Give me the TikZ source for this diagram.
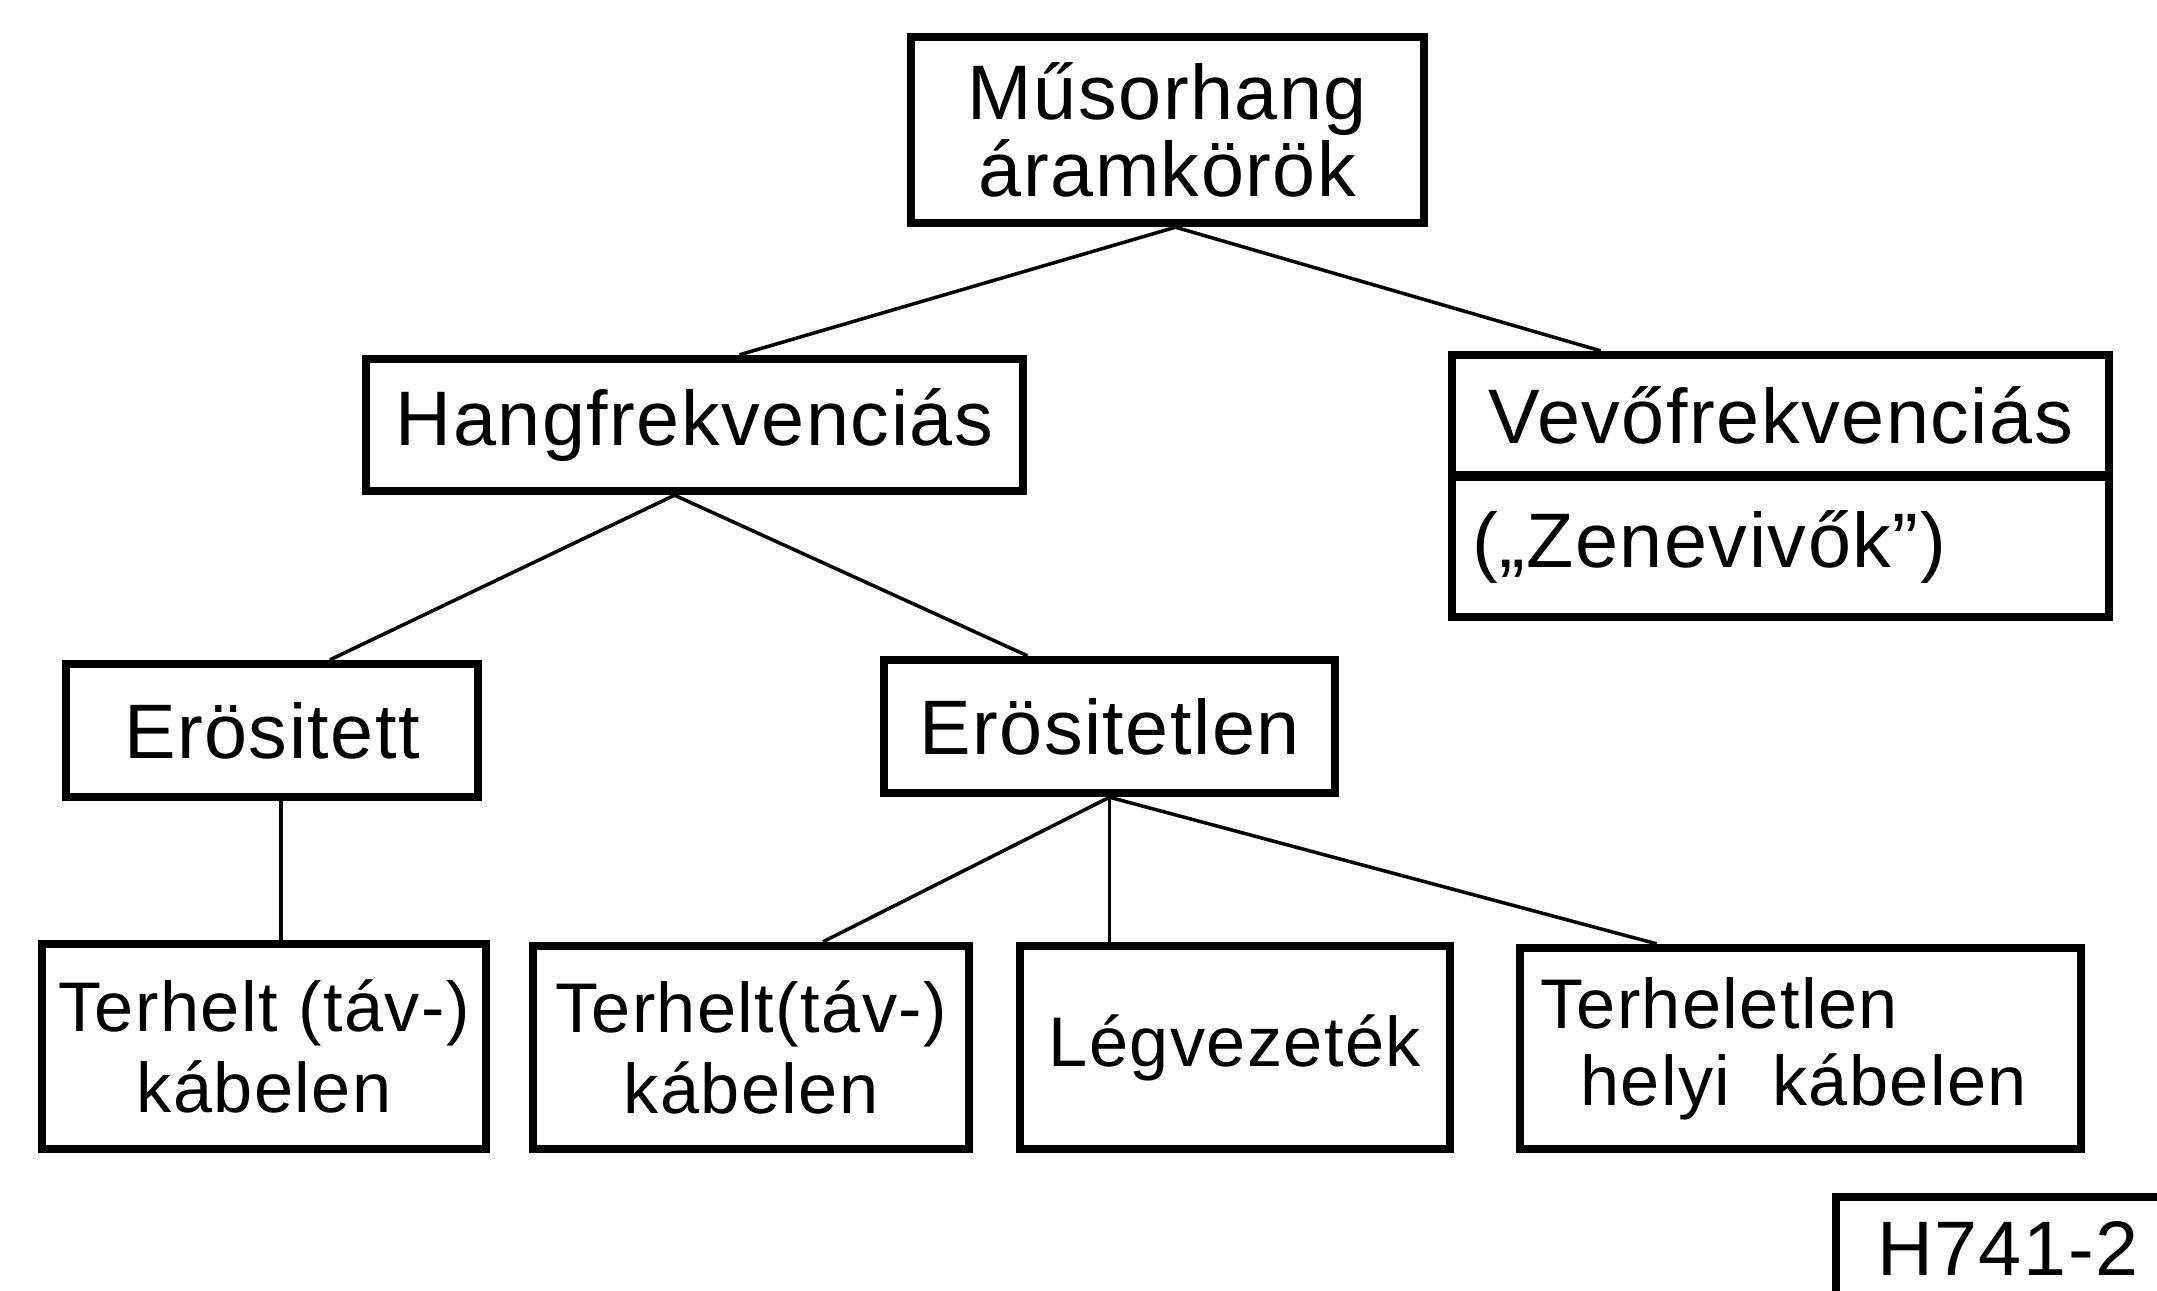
\documentclass[tikz,border=0pt]{standalone}
\usepackage{fontspec}
\setmainfont{Liberation Sans}[LetterSpace=2]

\begin{document}
\begin{tikzpicture}[line width=1pt,
        box/.style={draw, line width=2.4pt, inner sep=0pt, align=center,
                font=\fontsize{22}{24}\selectfont},
        kbox/.style={box, font=\fontsize{20}{23}\selectfont}]
                \useasboundingbox (0,0) rectangle (21.57,-12.9);
                \node[box, minimum width=5.13cm, minimum height=1.86cm, font=\fontsize{22}{20.5}\selectfont] (musor) at (11.675,-1.30) {Műsorhang\\áramkörök};
                \node[box, minimum width=6.57cm, minimum height=1.32cm] (hang) at (6.945,-4.25) {Hangfrekvenciás};
                \node[box, minimum width=6.57cm, minimum height=1.2cm] (vevo) at (17.805,-4.15) {Vevőfrekvenciás};
                \node[box, text width=6.17cm, inner xsep=0.2cm, align=left, minimum height=1.4cm] (zene) at (17.805,-5.47) {(„Zenevivők”)};
                \node[box, minimum width=4.12cm, minimum height=1.33cm] (erositett) at (2.72,-7.305) {Erösitett};
                \node[box, minimum width=4.51cm, minimum height=1.33cm] (erositetlen) at (11.095,-7.265) {Erösitetlen};
                \node[kbox, minimum width=4.44cm, minimum height=2.05cm] (b1) at (2.64,-10.465) {Terhelt (táv-)\\kábelen};
                \node[kbox, minimum width=4.36cm, minimum height=2.03cm] (b2) at (7.51,-10.475) {Terhelt(táv-)\\kábelen};
                \node[kbox, minimum width=4.3cm, minimum height=2.03cm] (b3) at (12.35,-10.475) {Légvezeték};
                \node[kbox, text width=5.21cm, inner xsep=0.2cm, align=left, minimum height=2.01cm, font=\fontsize{20}{22}\selectfont] (b4) at (18.005,-10.485) {Terheletlen\\\hspace*{0.4cm}helyi\hspace{0.6em}kábelen};
                \node[inner sep=0pt, anchor=north west, minimum width=3.4cm, minimum height=1.0cm, font=\fontsize{22}{24}\selectfont] (code) at (18.36,-11.97) {H741-2};
                \draw[line width=2.4pt] (code.south west) |- (code.north east);
                \coordinate (m) at ([xshift=0.08cm]musor.south);
                \coordinate (h) at ([xshift=-0.2cm]hang.south);
                \coordinate (e) at ([xshift=0.09cm]erositett.south);
                \draw (m) -- ([xshift=0.45cm]hang.north);
                \draw (m) -- ([xshift=-1.8cm]vevo.north);
                \draw (h) -- ([xshift=0.58cm]erositett.north);
                \draw (h) -- ([xshift=-0.82cm]erositetlen.north);
                \draw (e) -- (e |- b1.north);
                \draw (erositetlen.south) -- ([xshift=0.72cm]b2.north);
                \draw (erositetlen.south) -- (erositetlen.south |- b3.north);
                \draw (erositetlen.south) -- ([xshift=-1.44cm]b4.north);
        \end{tikzpicture}
\end{document}
